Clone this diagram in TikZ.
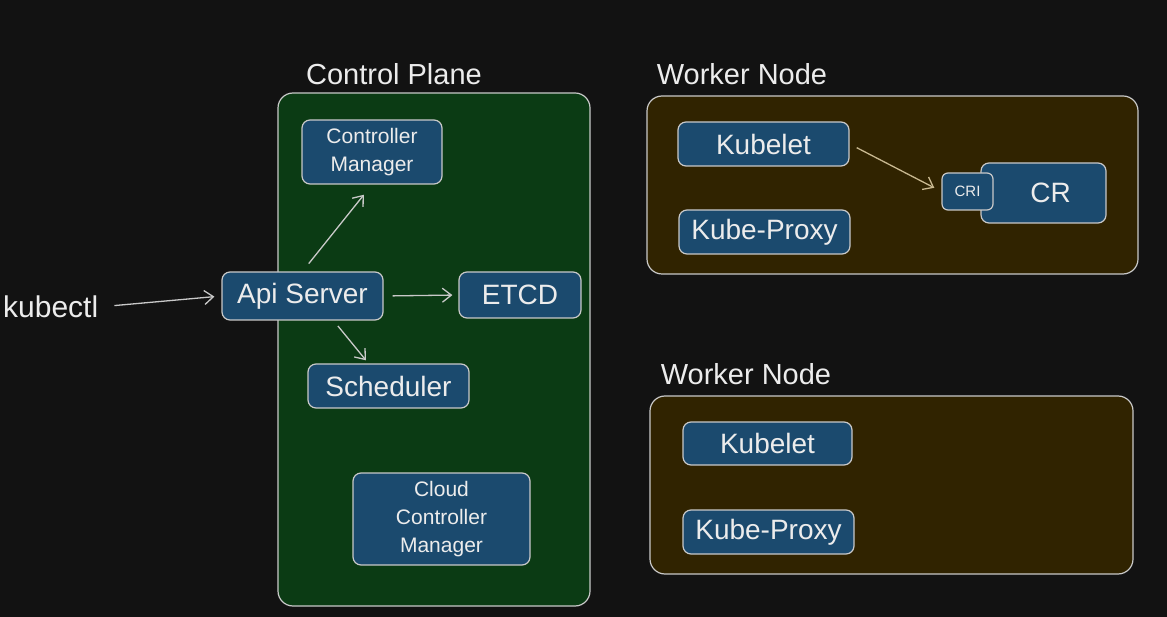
\documentclass[tikz,border=0pt]{standalone}
\usepackage{fontspec}
\setmainfont{Liberation Sans}
\usetikzlibrary{arrows.meta}
\definecolor{bgdark}{HTML}{121212}
\definecolor{planegreen}{HTML}{0B3B14}
\definecolor{nodebrown}{HTML}{302300}
\definecolor{boxblue}{HTML}{1B4A6E}
\definecolor{edgegrey}{HTML}{C9C9C9}
\definecolor{inkwhite}{HTML}{ECECEC}
\definecolor{arrowtan}{HTML}{C8B890}
\tikzset{%
  >={Straight Barb[width=14pt,length=9pt]},
  % Specifications for style of nodes:
            base/.style = {rectangle, rounded corners=8pt, draw=edgegrey,
                           line width=1.2pt, inner sep=0pt,
                           text centered, text=inkwhite,
                           font=\fontsize{28}{30}\selectfont},
  box0/.style = {base, fill=boxblue},
  box1/.style = {base, fill=boxblue, font=\fontsize{21}{28}\selectfont},
  box2/.style = {base, fill=boxblue, rounded corners=6pt, font=\fontsize{15}{18}\selectfont},
  panel0/.style = {base, rounded corners=15pt, fill=planegreen},
  panel1/.style = {base, rounded corners=15pt, fill=nodebrown},
  void/.style = {text=inkwhite, inner sep=0pt, font=\fontsize{29}{30}\selectfont},
  link/.style = {->, draw=edgegrey, line width=1.3pt},
}

\begin{document}
\begin{tikzpicture}[x=1pt, y=-1pt, align=center]

  \fill[bgdark] (0,0) rectangle (1167,617);
  \useasboundingbox (0,0) rectangle (1167,617);

  % Specification of panels and titles
  \node (onControlPlane) [panel0, minimum width=312pt, minimum height=513pt] at (434,349.5) {};
  \node (onCpTitle)      [void]                                               at (394,74)    {Control Plane};
  \node (onWorkerA)      [panel1, minimum width=491pt, minimum height=178pt] at (892.5,185) {};
  \node (onWaTitle)      [void]                                               at (742,74)    {Worker Node};
  \node (onWorkerB)      [panel1, minimum width=483pt, minimum height=178pt] at (891.5,485) {};
  \node (onWbTitle)      [void]                                               at (746,374)   {Worker Node};

  % Specification of nodes (position, etc.)
  \node (onKubectl)   [void, anchor=west, font=\fontsize{30}{30}\selectfont] at (3,307) {kubectl};
  \node (onApiServer) [box0, minimum width=161pt, minimum height=48pt]    at (302.5,296) {Api Server};
  \node (onCtrlMgr)   [box1, minimum width=140pt, minimum height=64pt]    at (372,152)   {Controller\\Manager};
  \node (onEtcd)      [box0, minimum width=122pt, minimum height=46pt]    at (520,295)   {ETCD};
  \node (onScheduler) [box0, minimum width=161pt, minimum height=44pt]    at (388.5,386) {Scheduler};
  \node (onCloudMgr)  [box1, minimum width=177pt, minimum height=92pt]    at (441.5,519) {Cloud\\Controller\\Manager};

  \node (onKubeletA)  [box0, minimum width=171pt, minimum height=44pt]    at (763.5,144) {Kubelet};
  \node (onProxyA)    [box0, minimum width=171pt, minimum height=44pt]    at (764.5,232) {Kube-Proxy};
  \node (onCr)        [box0, minimum width=125pt, minimum height=60pt]    at (1043.5,193) {\hspace*{14pt}CR};
  \node (onCri)       [box2, minimum width=51pt, minimum height=37pt]     at (967.5,191.5) {CRI};

  \node (onKubeletB)  [box0, minimum width=169pt, minimum height=43pt]    at (767.5,443.5) {Kubelet};
  \node (onProxyB)    [box0, minimum width=171pt, minimum height=44pt]    at (768.5,532) {Kube-Proxy};

  % Specification of lines between nodes specified above
  \draw[link, shorten <=16pt, shorten >=7pt]  (onKubectl.east) -- (onApiServer.west);
  \draw[link, shorten <=10pt, shorten >=13pt] (onApiServer.north) -- (onCtrlMgr.south);
  \draw[link, shorten <=9pt, shorten >=6pt]   (onApiServer.east) -- (onEtcd.west);
  \draw[link, shorten <=7pt, shorten >=4pt]   ([xshift=31pt]onApiServer.south) -- ([xshift=-20pt]onScheduler.north);
  \draw[link, draw=arrowtan, shorten <=8pt, shorten >=8pt] (onKubeletA.east) -- (onCri.west);
\end{tikzpicture}
\end{document}
